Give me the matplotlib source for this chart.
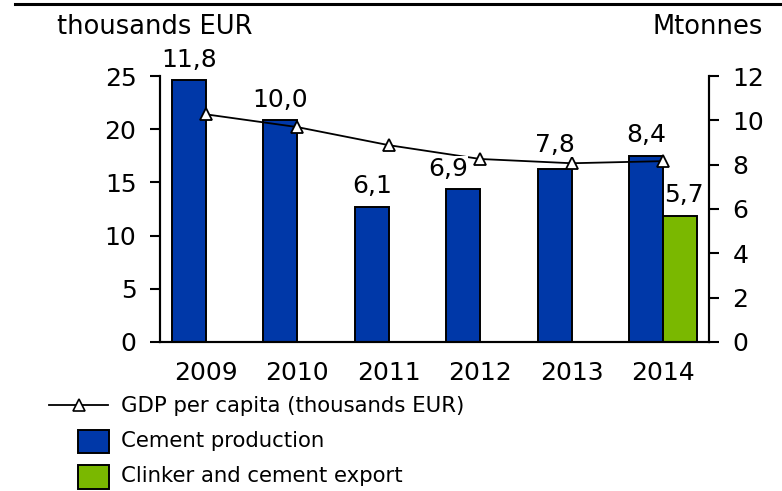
import matplotlib
matplotlib.use("Agg")
import matplotlib.pyplot as plt
from matplotlib.lines import Line2D
from matplotlib.patches import Rectangle
import numpy as np

years = ["2009", "2010", "2011", "2012", "2013", "2014"]
cement_production = [11.8, 10.0, 6.1, 6.9, 7.8, 8.4]
clinker_export = [np.nan, np.nan, np.nan, np.nan, np.nan, 5.7]
gdp_per_capita = [21.4, 20.2, 18.5, 17.2, 16.8, 17.0]

blue = "#0038A8"
green = "#7AB800"
fs_tick = 18
fs_unit = 18.5
fs_legend = 15.3

fig = plt.figure(figsize=(7.82, 4.91), dpi=100)
ax = fig.add_axes([0.2046, 0.3035, 0.7020, 0.5417])
ax2 = ax.twinx()

x = np.arange(len(years))
w = 0.37

# bars (Mtonnes) on ax, tick labels on the right
ax.bar(x - w / 2, cement_production, width=w, color=blue, edgecolor="black", linewidth=1.4, zorder=2)
ax.bar(x + w / 2, clinker_export, width=w, color=green, edgecolor="black", linewidth=1.4, zorder=2)
ax.set_ylim(0, 12)
ax.set_xlim(-0.5, 5.5)
ax.yaxis.tick_right()
ax.set_yticks(range(0, 13, 2))

# GDP line on ax2, tick labels on the left
ax2.plot(x, gdp_per_capita, color="black", linewidth=1.3, marker="^", markersize=9,
         markerfacecolor="white", markeredgecolor="black", markeredgewidth=1.3, zorder=3)
ax2.set_ylim(0, 25)
ax2.yaxis.tick_left()
ax2.set_yticks(range(0, 26, 5))

# value labels (white box hides the line behind them); a few nudged off the markers
nudge = {3: (-11, 6), 4: (0, 9)}
for i, v in enumerate(cement_production):
    ax2.annotate(f"{v:.1f}".replace(".", ","), xy=(i - w / 2, v), xycoords=ax.transData,
                 xytext=nudge.get(i, (0, 6)), textcoords="offset points", ha="center", va="bottom",
                 fontsize=fs_tick, zorder=5,
                 bbox=dict(facecolor="white", edgecolor="none", pad=0.2))
for i, v in enumerate(clinker_export):
    if not np.isnan(v):
        ax2.annotate(f"{v:.1f}".replace(".", ","), xy=(i + w / 2, v), xycoords=ax.transData,
                     xytext=(3, 6), textcoords="offset points", ha="center", va="bottom",
                     fontsize=fs_tick, zorder=5,
                     bbox=dict(facecolor="white", edgecolor="none", pad=0.2))

for a in (ax, ax2):
    a.spines["top"].set_visible(False)
    for s in a.spines.values():
        s.set_linewidth(1.5)
ax.set_xticks(x)
ax.set_xticklabels(years, fontsize=fs_tick)
ax.tick_params(axis="x", length=0, pad=14)
ax.tick_params(axis="y", labelsize=fs_tick, length=7, width=1.5, direction="out", pad=10)
ax2.tick_params(axis="y", labelsize=fs_tick, length=7, width=1.5, direction="out", pad=10)

# units and top rule
fig.add_artist(Line2D([0.019, 1.0], [0.991, 0.991], color="black", linewidth=2.2))
fig.text(0.073, 0.945, "thousands EUR", fontsize=fs_unit, ha="left", va="center")
fig.text(0.976, 0.945, "Mtonnes", fontsize=fs_unit, ha="right", va="center")

# legend
fig.add_artist(Line2D([0.063, 0.138], [0.175, 0.175], color="black", linewidth=1.3))
fig.add_artist(Line2D([0.1005], [0.175], marker="^", markersize=8, markerfacecolor="white",
                      markeredgecolor="black", markeredgewidth=1.2))
fig.text(0.155, 0.173, "GDP per capita (thousands EUR)", fontsize=fs_legend, ha="left", va="center")
fig.add_artist(Rectangle((0.100, 0.078), 0.040, 0.047, transform=fig.transFigure,
                         facecolor=blue, edgecolor="black", linewidth=1.4))
fig.text(0.155, 0.102, "Cement production", fontsize=fs_legend, ha="left", va="center")
fig.add_artist(Rectangle((0.100, 0.005), 0.040, 0.047, transform=fig.transFigure,
                         facecolor=green, edgecolor="black", linewidth=1.4))
fig.text(0.155, 0.030, "Clinker and cement export", fontsize=fs_legend, ha="left", va="center")

fig.savefig("out.png", dpi=100)
